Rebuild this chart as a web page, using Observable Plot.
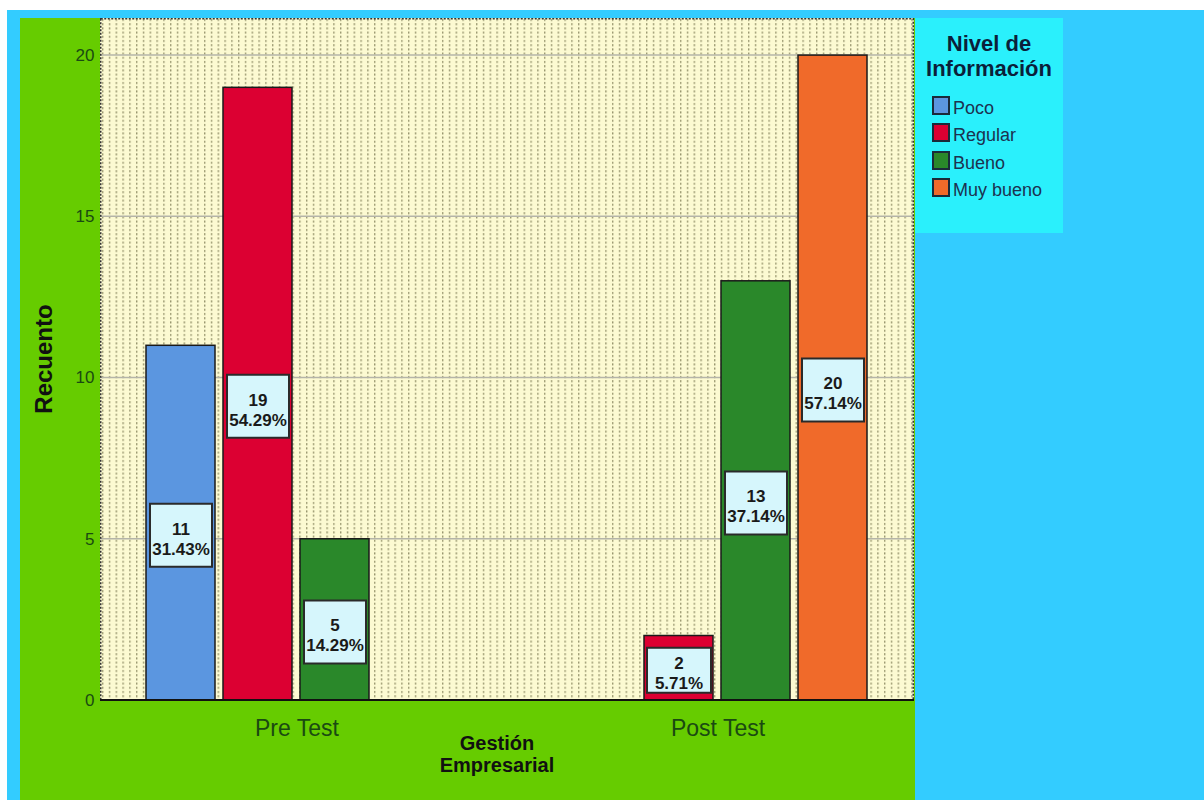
<!DOCTYPE html>
<html>
<head>
<meta charset="utf-8">
<script src="https://cdn.jsdelivr.net/npm/d3@7"></script>
<script src="https://cdn.jsdelivr.net/npm/@observablehq/plot@0.6"></script>
<style>
  html, body { margin: 0; padding: 0; background: #ffffff; width: 1204px; height: 800px; overflow: hidden; font-family: "Liberation Sans", Arial, sans-serif; }
  #blue { position: absolute; left: 7px; top: 10px; width: 1197px; height: 790px; background: #33ccff; }
  #green { position: absolute; left: 20px; top: 18px; width: 895px; height: 782px; background: #66cc00; }
  #legend { position: absolute; left: 915px; top: 18px; width: 148px; height: 215px; background: #2af0fc; }
  #legend .title { position: absolute; left: 0; top: 13px; width: 148px; text-align: center; font-weight: bold; font-size: 22px; line-height: 25px; color: #0b1f3a; }
  #legend .sw { position: absolute; left: 17px; width: 14px; height: 15px; border: 2px solid #1a2a3a; }
  #legend .lab { position: absolute; left: 38px; font-size: 18px; line-height: 20px; color: #1c3250; white-space: nowrap; }
  #ytitle { position: absolute; left: 24px; top: 341px; transform: translate(-50%, -50%) rotate(-90deg); font-weight: bold; font-size: 24px; color: #111; white-space: nowrap; }
  #xtitle { position: absolute; left: 327px; top: 714px; width: 300px; text-align: center; font-weight: bold; font-size: 20px; line-height: 22px; color: #111; }
</style>
</head>
<body>
<div id="blue"></div>
<div id="green"><div id="chart"></div><div id="ytitle"></div><div id="xtitle"></div></div>
<div id="legend"></div>
<script>
// ---- data ----
const groups = ["Pre Test", "Post Test"];
const levels = ["Poco", "Regular", "Bueno", "Muy bueno"];
const levelColors = ["#5b96e0", "#dc0032", "#2a882a", "#f06a2a"];
const preTestCounts = [11, 19, 5, 0];
const postTestCounts = [0, 2, 13, 20];
const preTestPct = ["31.43%", "54.29%", "14.29%", ""];
const postTestPct = ["", "5.71%", "37.14%", "57.14%"];
const yTicks = [0, 5, 10, 15, 20];
const yTitle = "Recuento";
const xTitleLines = ["Gestión", "Empresarial"];
const legendTitleLines = ["Nivel de", "Información"];

const rows = [];
levels.forEach((lv, i) => {
  rows.push({group: groups[0], level: lv, value: preTestCounts[i], pct: preTestPct[i]});
  rows.push({group: groups[1], level: lv, value: postTestCounts[i], pct: postTestPct[i]});
});
const bars = rows.filter(d => d.value > 0);
const bigLabels = bars.filter(d => d.value >= 3);
const smallLabels = bars.filter(d => d.value < 3);

const boxBig = {draw(ctx) { ctx.rect(-31, -31.5, 62, 63); }};
const boxSmall = {draw(ctx) { ctx.rect(-32, -22.5, 64, 45); }};

const chart = Plot.plot({
  width: 895,
  height: 782,
  marginLeft: 80,
  marginRight: 1,
  marginTop: 0,
  marginBottom: 100,
  style: {background: "transparent", fontFamily: "'Liberation Sans', Arial, sans-serif"},
  fx: {domain: groups, paddingInner: 0.071, paddingOuter: 0, label: null},
  x: {domain: levels, paddingInner: 0.1, paddingOuter: 0.58, axis: null},
  y: {domain: [0, 21.15], label: null},
  color: {domain: levels, range: levelColors},
  marks: [
    Plot.barY(bars, {fx: "group", x: "level", y: "value", fill: "level", stroke: "#1a1a1a", strokeWidth: 1.5}),
    Plot.dot(bigLabels, {fx: "group", x: "level", y: d => d.value / 2, dy: 12, symbol: boxBig, fill: "#d6f6fc", stroke: "#2a2a2a", strokeWidth: 2}),
    Plot.dot(smallLabels, {fx: "group", x: "level", y: d => d.value / 2, dy: 2, symbol: boxSmall, fill: "#d6f6fc", stroke: "#2a2a2a", strokeWidth: 2}),
    Plot.text(bigLabels, {fx: "group", x: "level", y: d => d.value / 2, dy: 15, text: d => d.value + "\n" + d.pct, fontSize: 17, fontWeight: "bold", fill: "#1a1a1a", lineHeight: 1.18}),
    Plot.text(smallLabels, {fx: "group", x: "level", y: d => d.value / 2, dy: 4, text: d => d.value + "\n" + d.pct, fontSize: 17, fontWeight: "bold", fill: "#1a1a1a", lineHeight: 1.22}),
    Plot.axisY({ticks: yTicks, tickSize: 0, tickPadding: 7, fontSize: 17, fill: "#1a4a12", label: null}),
    Plot.axisFx({anchor: "bottom", tickSize: 0, tickPadding: 19, fontSize: 23, fill: "#1a4a12", label: null})
  ]
});

document.getElementById("chart").appendChild(chart);

// plot-area background, grid and border, from the library's scales
const fxR = chart.scale("fx").range;
const yS = chart.scale("y");
const [yBottom, yTop] = yS.range;
const x0 = fxR[0], x1 = fxR[1];
const svg = d3.select(chart);
const defs = svg.insert("defs", ":first-child");
const pat = defs.append("pattern").attr("id", "dots").attr("patternUnits", "userSpaceOnUse")
  .attr("width", 6.8).attr("height", 4.2).attr("x", x0 + 2).attr("y", yTop);
pat.append("rect").attr("width", 6.8).attr("height", 4.2).attr("fill", "#fcfad2");
pat.append("rect").attr("x", 0).attr("y", 1).attr("width", 1.4).attr("height", 2).attr("fill", "#98966e");
const bg = svg.insert("g", "defs + *");
bg.append("rect").attr("x", x0).attr("y", yTop).attr("width", x1 - x0).attr("height", yBottom - yTop).attr("fill", "url(#dots)");
yTicks.filter(t => t > 0).forEach(t => {
  bg.append("line").attr("x1", x0).attr("x2", x1).attr("y1", yS.apply(t)).attr("y2", yS.apply(t))
    .attr("stroke", "#b4b4a8").attr("stroke-width", 1.5);
});
bg.append("rect").attr("x", x0 + 0.75).attr("y", yTop + 0.75).attr("width", x1 - x0 - 1.5).attr("height", yBottom - yTop - 0.75)
  .attr("fill", "none").attr("stroke", "#333").attr("stroke-width", 1.5).attr("stroke-dasharray", "2 1.5");
svg.append("line").attr("x1", x0).attr("x2", x1).attr("y1", yBottom).attr("y2", yBottom).attr("stroke", "#111").attr("stroke-width", 2);

// titles
document.getElementById("ytitle").textContent = yTitle;
document.getElementById("xtitle").innerHTML = xTitleLines.map(s => `<div>${s}</div>`).join("");

// legend
const leg = document.getElementById("legend");
const t = document.createElement("div");
t.className = "title";
t.innerHTML = legendTitleLines.map(s => `<div>${s}</div>`).join("");
leg.appendChild(t);
levels.forEach((lv, i) => {
  const top = 78 + i * 27.4;
  const sw = document.createElement("div");
  sw.className = "sw";
  sw.style.top = top + "px";
  sw.style.background = levelColors[i];
  leg.appendChild(sw);
  const lab = document.createElement("div");
  lab.className = "lab";
  lab.style.top = (top + 2) + "px";
  lab.textContent = lv;
  leg.appendChild(lab);
});
</script>
</body>
</html>
